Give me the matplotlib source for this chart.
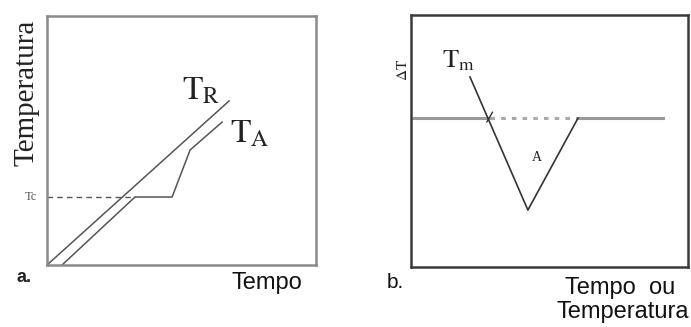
import matplotlib.pyplot as plt

plt.rcParams['mathtext.fontset'] = 'stix'

# a. heating curves (time on x, temperature on y)
tr_x = [0, 67.7]
tr_y = [0, 65.9]
ta_x = [5.6, 32.7, 46.5, 53.2, 65.1]
ta_y = [0, 27.3, 27.3, 46.2, 57.4]
tc_x = [0, 32.7]
tc_y = [27.3, 27.3]

# b. DTA signal
base_left_x = [0, 28.5]
base_right_x = [60.3, 91.0]
base_y = 59.1
peak_x = [21.3, 42.2, 60.3]
peak_y = [75.4, 22.6, 59.1]
onset_x = [27.4, 29.4]
onset_y = [57.6, 61.4]

fig = plt.figure(figsize=(6.91, 3.27), dpi=100)
ax1 = fig.add_axes([47 / 691, 62 / 327, 269 / 691, 249 / 327])
ax2 = fig.add_axes([411 / 691, 60 / 327, 277 / 691, 252 / 327])

for ax, col in ((ax1, '#8a8a8a'), (ax2, '#3a3a3a')):
    ax.set_xlim(0, 100)
    ax.set_ylim(0, 100)
    ax.set_xticks([])
    ax.set_yticks([])
    for s in ax.spines.values():
        s.set_color(col)
        s.set_linewidth(1.8)

# panel a
ax1.plot(tr_x, tr_y, color='#555555', lw=1.1)
ax1.plot(ta_x, ta_y, color='#555555', lw=1.1)
ax1.plot(tc_x, tc_y, color='#555555', lw=1.0, ls=(0, (4, 3)))
ax1.text(-7.6, 69, 'Temperatura', rotation=90, ha='center', va='center',
         fontsize=21, family='Liberation Serif', color='#222222')
ax1.text(81.8, -7.2, 'Tempo', ha='center', va='center', fontsize=17,
         family='Liberation Sans', color='#111111', clip_on=False)
ax1.text(-8.6, -5.2, 'a.', ha='center', va='center', fontsize=13,
         family='Liberation Sans', weight='bold', color='#222222')
ax1.text(-6, 27.3, 'Tc', ha='center', va='center', fontsize=9,
         family='Liberation Serif', color='#555555')
ax1.text(50.2, 66.3, r'$\mathrm{T_R}$', ha='left', va='baseline',
         fontsize=24, color='#222222')
ax1.text(68, 49, r'$\mathrm{T_A}$', ha='left', va='baseline',
         fontsize=24, color='#222222')

# panel b
ax2.plot(base_left_x, [base_y, base_y], color='#999999', lw=2.2)
ax2.plot(base_right_x, [base_y, base_y], color='#999999', lw=2.2)
ax2.plot([base_left_x[1], base_right_x[0]], [base_y, base_y], color='#aaaaaa',
         lw=2.2, ls=(0, (1.5, 2)))
ax2.plot(peak_x, peak_y, color='#333333', lw=1.2)
ax2.plot(onset_x, onset_y, color='#333333', lw=1.0)
ax2.text(-3.2, 78.2, r'$\Delta\mathrm{T}$', rotation=90, ha='center',
         va='center', fontsize=11, color='#222222', clip_on=False)
ax2.text(11.2, 79.4, r'$\mathrm{T_m}$', ha='left', va='baseline',
         fontsize=19, color='#222222')
ax2.text(45.5, 43.6, 'A', ha='center', va='center', fontsize=10,
         family='Liberation Serif', color='#222222')
ax2.text(-5.8, -6, 'b.', ha='center', va='center', fontsize=15,
         family='Liberation Sans', color='#111111', clip_on=False)
ax2.text(75.5, -8.3, 'Tempo  ou', ha='center', va='center', fontsize=17,
         family='Liberation Sans', color='#111111', clip_on=False)
ax2.text(76.5, -17.9, 'Temperatura', ha='center', va='center', fontsize=17,
         family='Liberation Sans', color='#111111', clip_on=False)

fig.savefig('out.png', dpi=100)
